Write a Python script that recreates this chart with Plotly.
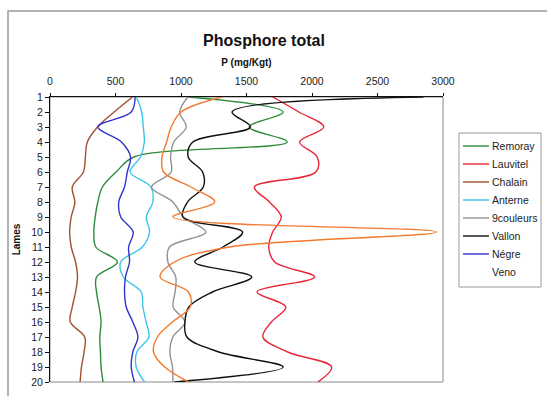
import plotly.graph_objects as go

# Sediment laminae (1 = top of core)
lames = list(range(1, 21))

# Total phosphorus, mg/Kg, per lamina and per lake
remoray = [1060, 1780, 1520, 1810, 640, 505, 400, 365, 345, 335, 350, 515, 355, 355, 375, 390, 380, 385, 390, 405]
lauvitel = [1700, 1900, 2090, 1905, 2040, 2030, 1560, 1675, 1765, 1700, 1670, 1715, 2020, 1580, 1800, 1690, 1625, 1815, 2150, 2045]
chalain = [630, 490, 363, 285, 270, 255, 170, 190, 162, 150, 162, 195, 210, 195, 170, 155, 265, 260, 240, 230]
anterne = [660, 700, 712, 720, 690, 612, 770, 785, 735, 760, 705, 540, 560, 696, 709, 734, 755, 663, 658, 722]
neuf_couleurs = [1053, 990, 1040, 945, 920, 925, 775, 938, 1020, 1190, 912, 900, 960, 955, 940, 1030, 938, 915, 935, 938]
vallon = [2850, 1390, 1530, 1090, 1055, 1165, 1170, 1050, 1014, 1470, 1320, 1105, 1540, 1240, 1060, 1030, 1045, 1290, 1780, 950]
negre = [650, 620, 365, 545, 615, 590, 569, 525, 540, 635, 600, 607, 576, 569, 582, 632, 671, 632, 620, 645]
veno = [1310, 1000, 925, 890, 855, 867, 1075, 1257, 938, 2950, 1370, 950, 840, 1057, 1070, 935, 820, 790, 875, 1060]

x_ticks = [0, 500, 1000, 1500, 2000, 2500, 3000]

# name, values, line colour, colour of the key sample (None = no sample)
series = [
    ("Remoray", remoray, "#2e8b3a", "#2e8b3a"),
    ("Lauvitel", lauvitel, "#e6283a", "#e6283a"),
    ("Chalain", chalain, "#a0522d", "#a0522d"),
    ("Anterne", anterne, "#3ec6e8", "#3ec6e8"),
    ("9couleurs", neuf_couleurs, "#929292", "#929292"),
    ("Vallon", vallon, "#111111", "#111111"),
    ("Négre", negre, "#3333cc", "#3333cc"),
    ("Veno", veno, "#f27a2e", None),
]

FONT = "Arial, Liberation Sans, sans-serif"

L, R, T, B = 50, 104, 97, 14
W, H = 547 - L - R, 396 - T - B


def px(xp):
    return (xp - L) / W


def py(yp):
    return (396 - B - yp) / H


fig = go.Figure()
for name, vals, color, _ in series:
    fig.add_trace(go.Scatter(
        x=vals, y=lames, name=name, mode="lines",
        line=dict(color=color, width=1.4, shape="spline", smoothing=1),
    ))

# Key box at the right of the plot
shapes = [
    # plot-area frame
    dict(type="rect", xref="paper", yref="paper", x0=0, x1=1, y0=0, y1=1,
         line=dict(color="#8a8a8a", width=1), layer="below"),
    # chart-area frame
    dict(type="rect", xref="paper", yref="paper",
         x0=px(8), x1=px(570), y0=py(420), y1=py(11),
         line=dict(color="#9a9a9a", width=1.5), layer="below"),
    # key frame
    dict(type="rect", xref="paper", yref="paper",
         x0=px(459), x1=px(541), y0=py(287), y1=py(133),
         line=dict(color="#9a9a9a", width=1), fillcolor="white", layer="below"),
]
annotations = []
for i, (name, _, _, key_color) in enumerate(series):
    yk = py(146 + 18 * i)
    if key_color is not None:
        shapes.append(dict(type="line", xref="paper", yref="paper",
                           x0=px(463), x1=px(489), y0=yk, y1=yk,
                           line=dict(color=key_color, width=1.4)))
    annotations.append(dict(text=name, xref="paper", yref="paper",
                            x=px(490), y=yk, xanchor="left", yanchor="middle",
                            showarrow=False,
                            font=dict(size=10.5, color="#222222")))

fig.update_layout(
    width=547, height=396,
    margin=dict(l=L, r=R, t=T, b=B, autoexpand=False),
    paper_bgcolor="white", plot_bgcolor="white",
    font=dict(family=FONT, size=10, color="#222222"),
    title=dict(
        text="<b>Phosphore total</b>", font=dict(size=16, color="#111111"),
        x=264 / 547, xanchor="center", xref="container",
        y=1 - 40 / 396, yanchor="middle", yref="container",
    ),
    showlegend=False,
    shapes=shapes,
    annotations=annotations,
)

fig.update_xaxes(
    range=[0, 3000], side="top", tickvals=x_ticks,
    showgrid=False, zeroline=False,
    showline=True, linecolor="#111111", linewidth=1,
    ticks="outside", ticklen=3, tickcolor="#111111",
    ticklabelstandoff=4,
    tickfont=dict(size=10.5, color="#222222"),
    title=dict(text="<b>P (mg/Kgt)</b>", font=dict(size=10, color="#111111"), standoff=6),
)
fig.update_yaxes(
    range=[20, 1], tickvals=lames,
    showgrid=False, zeroline=False,
    showline=True, linecolor="#111111", linewidth=1,
    ticks="outside", ticklen=4, tickcolor="#111111",
    tickfont=dict(size=10.5, color="#222222"),
    title=dict(text="<b>Lames</b>", font=dict(size=10, color="#111111"), standoff=8),
)

fig.write_html("out.html")
